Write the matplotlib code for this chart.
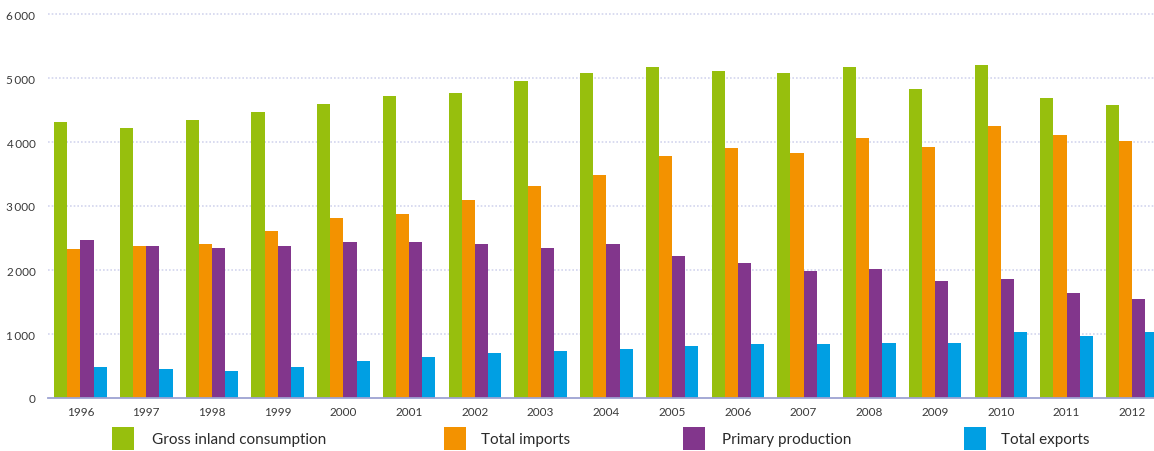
import matplotlib
matplotlib.use("Agg")
import matplotlib.pyplot as plt
from matplotlib.patches import Rectangle
import numpy as np

plt.rcParams['font.family'] = ['Lato', 'DejaVu Sans']

years = [str(y) for y in range(1996, 2013)]
series_names = ["Gross inland consumption", "Total imports",
                "Primary production", "Total exports"]
gross_inland = [4310, 4220, 4345, 4470, 4595, 4720, 4765, 4955, 5080,
                5170, 5110, 5080, 5170, 4825, 5200, 4690, 4580]
total_imports = [2330, 2375, 2405, 2610, 2810, 2875, 3095, 3310, 3485,
                 3780, 3905, 3830, 4060, 3920, 4250, 4110, 4015]
primary_production = [2465, 2375, 2345, 2375, 2435, 2435, 2405, 2345, 2405,
                      2220, 2110, 1985, 2015, 1830, 1860, 1640, 1545]
total_exports = [485, 455, 420, 485, 580, 640, 705, 735, 765,
                 810, 845, 845, 860, 860, 1030, 970, 1030]
y_ticks = [0, 1000, 2000, 3000, 4000, 5000, 6000]
y_tick_labels = ["0", "1\u2009000", "2\u2009000", "3\u2009000",
                 "4\u2009000", "5\u2009000", "6\u2009000"]

colors = ["#97BF0D", "#F39200", "#82368C", "#009FE3"]
values = [gross_inland, total_imports, primary_production, total_exports]

W, H = 1154, 452
fig = plt.figure(figsize=(W / 100, H / 100), dpi=100)
ax = fig.add_axes([48 / W, 53 / H, 1 - 48 / W, (399 - 15) / H])

x = np.arange(len(years))
bw = 0.2
offsets = [-1.5 * bw, -0.5 * bw, 0.5 * bw, 1.5 * bw]
for vals, off, c in zip(values, offsets, colors):
    ax.bar(x + off, vals, width=bw, color=c, zorder=3, linewidth=0)

ax.set_xlim(-0.494, 16.33)
ax.set_ylim(0, 6000)
ax.set_yticks(y_ticks)
ax.set_yticklabels(y_tick_labels)
ax.set_xticks(x)
ax.set_xticklabels(years)
ax.tick_params(axis='both', length=0, labelsize=8.5, colors="#3a3a3a")
ax.tick_params(axis='x', pad=6)
ax.tick_params(axis='y', pad=9)

for s in ["top", "right", "left"]:
    ax.spines[s].set_visible(False)
ax.spines["bottom"].set_color("#9DA3D2")
ax.spines["bottom"].set_linewidth(1.3)
ax.spines["bottom"].set_zorder(4)

for yv in y_ticks[1:]:
    ax.axhline(yv, color="#D3D5EE", linewidth=1.2, linestyle=(0, (1, 1.2)),
               zorder=1, clip_on=False)

# legend row below the plot
legend_x = [112, 444, 683, 964]
legend_text_x = [152, 481, 722, 1001]
for name, c, lx, tx in zip(series_names, colors, legend_x, legend_text_x):
    fig.add_artist(Rectangle((lx / W, 1 - 451 / H), 22 / W, 23 / H,
                             transform=fig.transFigure, color=c, lw=0))
    fig.text(tx / W, 1 - 440 / H, name, fontsize=11, color="#2a2a2a",
             va="center", ha="left")

fig.savefig("out.png", dpi=100, facecolor="white")
